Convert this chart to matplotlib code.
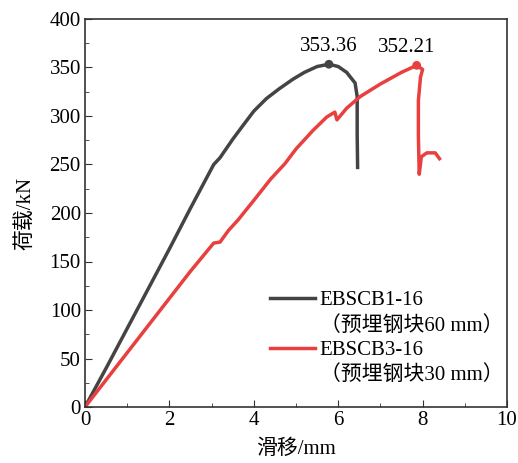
import matplotlib
matplotlib.use("Agg")
import matplotlib.pyplot as plt
from matplotlib.lines import Line2D
from matplotlib.ticker import MultipleLocator

plt.rcParams["font.family"] = ["Liberation Serif", "Noto Sans CJK SC"]

# EBSCB1-16 (60 mm block)
b1_slip = [0, 0.5, 1.0, 1.5, 2.0, 2.5, 3.05, 3.2, 3.5, 3.74, 4.0, 4.3,
           4.6, 4.93, 5.2, 5.5, 5.78, 6.0, 6.2, 6.4, 6.45, 6.45, 6.46]
b1_load = [0, 40, 81, 122, 163, 205, 250, 257, 276, 290, 305, 318,
           328, 338, 345, 351, 353.36, 351, 345, 334, 320, 280, 247]

# EBSCB3-16 (30 mm block)
b3_slip = [0, 0.5, 1.0, 1.5, 2.0, 2.5, 3.05, 3.2, 3.4, 3.63, 4.0, 4.4, 4.74,
           5.0, 5.4, 5.73, 5.92, 5.97, 6.2, 6.52, 7.0, 7.5, 7.86, 8.0, 7.95,
           7.9, 7.9, 7.92, 7.97, 8.1, 8.3, 8.4]
b3_load = [0, 28, 56, 84, 112, 140, 169, 170, 182, 193, 213, 235, 251,
           266, 285, 299, 304, 296, 308, 320, 333, 345, 352.21, 348, 340,
           316, 280, 240, 258, 262, 262, 256]

peak_slip = [5.78, 7.86]
peak_load = [353.36, 352.21]
peak_text = ["353.36", "352.21"]
text_x = [5.78, 7.63]

names = ["EBSCB1-16", "EBSCB3-16"]
notes = ["（预埋钢块60 mm）", "（预埋钢块30 mm）"]
colors = ["#444444", "#e8403f"]

fig = plt.figure(figsize=(5.18, 4.63), dpi=100)
ax = fig.add_axes([85 / 518, 1 - 407 / 463, 422 / 518, 388 / 463])

l1, = ax.plot(b1_slip, b1_load, color=colors[0], lw=2.5)
l2, = ax.plot(b3_slip, b3_load, color=colors[1], lw=2.5)
ax.scatter(peak_slip, peak_load, color=colors, s=28, zorder=5)
for x, y, t in zip(text_x, peak_load, peak_text):
    ax.text(x, y + 9, t, ha="center", va="bottom", fontsize=15)

ax.set_xlim(0, 10)
ax.set_ylim(0, 400)
ax.xaxis.set_major_locator(MultipleLocator(2))
ax.xaxis.set_minor_locator(MultipleLocator(1))
ax.yaxis.set_major_locator(MultipleLocator(50))
ax.yaxis.set_minor_locator(MultipleLocator(25))
ax.tick_params(which="both", direction="in", top=False, right=False,
               labelsize=15, color="#333333", pad=3)
ax.tick_params(which="major", length=5)
ax.tick_params(which="minor", length=3)
for s in ax.spines.values():
    s.set_color("#333333")
    s.set_linewidth(1.2)

ax.set_xlabel("滑移/mm", fontsize=15, labelpad=6.5)
ax.set_ylabel("荷载/kN", fontsize=15, labelpad=10)

blank = Line2D([], [], alpha=0)
ax.legend([l1, blank, l2, blank], [names[0], notes[0], names[1], notes[1]],
          loc="upper left", bbox_to_anchor=(0.438, 0.30), frameon=False,
          fontsize=15, handlelength=2.15, handletextpad=0.25,
          labelspacing=0.25, borderpad=0, borderaxespad=0)

fig.savefig("out.png", dpi=100)
